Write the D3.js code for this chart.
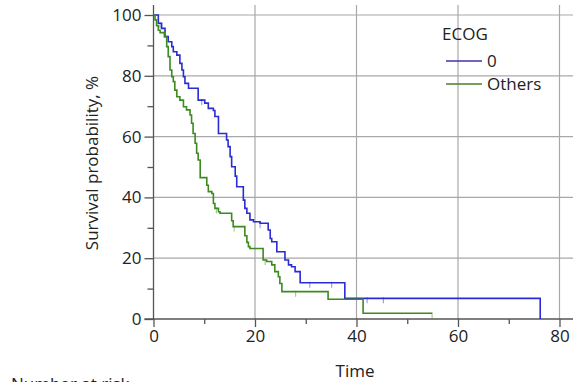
<!DOCTYPE html>
<html>
<head>
<meta charset="utf-8">
<script src="https://cdn.jsdelivr.net/npm/d3@7.9.0/dist/d3.min.js"></script>
<style>
  body { margin: 0; background: #fff; }
  svg { display: block; font-family: "Open Sans", "Noto Sans", sans-serif; }
</style>
</head>
<body>
<svg id="chart" width="573" height="382"></svg>
<script>
// Kaplan-Meier step points: [time, survival %]
const ecog0 = [[0,100],[0.95,97.3],[1.6,95.6],[2.27,92.9],[2.9,91.2],[3.6,89.6],[3.9,87.9],[4.6,86.8],[5.2,84.1],[5.6,81.9],[5.9,79.7],[6.2,77.5],[6.9,75.9],[8.8,72.0],[10.1,71.0],[10.8,69.3],[11.8,68.6],[12.1,66.6],[12.8,61.0],[14.4,58.9],[14.7,56.7],[15.1,53.4],[15.4,50.1],[16.1,47.0],[16.4,43.5],[17.7,39.1],[18.0,36.4],[18.4,34.8],[19.0,32.6],[19.7,32.0],[21.0,31.5],[22.6,29.3],[23.0,26.5],[23.3,25.4],[24.3,22.1],[25.9,19.4],[26.6,17.8],[27.2,17.2],[27.9,15.6],[28.9,11.9],[37.7,6.8],[76.2,0]];
const others = [[0,100],[0.3,98.4],[0.6,96.5],[0.95,95.0],[1.3,94.2],[2.3,92.9],[2.6,89.6],[2.9,86.3],[3.25,81.9],[3.6,79.7],[3.9,78.1],[4.2,75.3],[4.6,73.1],[5.2,72.0],[5.9,69.8],[6.5,68.8],[7.2,67.1],[7.5,64.4],[7.8,61.0],[8.2,57.8],[8.5,54.5],[8.8,52.3],[9.2,46.5],[10.5,44.0],[10.8,41.9],[11.5,41.3],[11.8,38.0],[12.1,36.4],[12.8,35.3],[13.1,34.8],[15.4,32.3],[15.7,30.4],[18.0,27.4],[18.4,25.2],[18.7,23.8],[19.0,23.2],[21.6,19.4],[22.3,18.9],[23.3,17.8],[23.9,15.6],[24.6,13.9],[24.9,11.7],[25.3,9.0],[34.4,6.5],[41.3,1.9],[54.9,1.9]];
const ecog0Censor = [1.3, 9.5, 21.0, 30.8, 35.1, 42.1, 45.3];
const othersCensor = [2.0, 12.4, 15.9, 22.0, 28.0, 54.9];

const groups = ["0", "Others"];
const xTicks = [0, 20, 40, 60, 80];
const xMinor = [10, 30, 50, 70];
const yTicks = [0, 20, 40, 60, 80, 100];
const yMinor = [10, 30, 50, 70, 90];

const colors = ["#2b2bd4", "#3d8a1f"];
const legendColors = ["#3f33b0", "#4a7d2a"];
const fontSize = 17;

const svg = d3.select("#chart");
const x = d3.scaleLinear().domain([0, 80]).range([153.5, 559.5]);
const y = d3.scaleLinear().domain([0, 100]).range([319, 15]);
const plotTop = 5, plotRight = 573;

// grid
svg.append("g").selectAll("line").data(xTicks.slice(1)).join("line")
  .attr("x1", d => x(d)).attr("x2", d => x(d))
  .attr("y1", plotTop).attr("y2", y(0))
  .attr("stroke", "#a8a8a8").attr("stroke-width", 1.2);
svg.append("g").selectAll("line").data(yTicks.slice(1)).join("line")
  .attr("x1", x(0)).attr("x2", plotRight)
  .attr("y1", d => y(d)).attr("y2", d => y(d))
  .attr("stroke", "#a8a8a8").attr("stroke-width", 1.2);

// axes
const yAxis = svg.append("g").attr("transform", `translate(${x(0)},0)`)
  .call(d3.axisLeft(y).tickValues(yTicks).tickSize(9).tickPadding(3));
const yAxisMinor = svg.append("g").attr("transform", `translate(${x(0)},0)`)
  .call(d3.axisLeft(y).tickValues(yMinor).tickSize(6).tickFormat(""));
const xAxis = svg.append("g").attr("transform", `translate(0,${y(0)})`)
  .call(d3.axisBottom(x).tickValues(xTicks).tickSize(8).tickPadding(3));
const xAxisMinor = svg.append("g").attr("transform", `translate(0,${y(0)})`)
  .call(d3.axisBottom(x).tickValues(xMinor).tickSize(5).tickFormat(""));
[yAxis, yAxisMinor, xAxis, xAxisMinor].forEach(g => {
  g.select(".domain").remove();
  g.selectAll("line").attr("stroke", "#555").attr("stroke-width", 1.3);
  g.selectAll("text").attr("font-size", fontSize).attr("fill", "#222")
    .attr("font-family", "'Open Sans', sans-serif");
});
svg.append("line").attr("x1", x(0)).attr("x2", x(0)).attr("y1", plotTop).attr("y2", y(0) + 1)
  .attr("stroke", "#555").attr("stroke-width", 1.3);
svg.append("line").attr("x1", x(0) - 9).attr("x2", plotRight).attr("y1", y(0)).attr("y2", y(0))
  .attr("stroke", "#555").attr("stroke-width", 1.3);

// curves
const line = d3.line().x(d => x(d[0])).y(d => y(d[1])).curve(d3.curveStepAfter);
[ecog0, others].forEach((data, i) => {
  svg.append("path").datum(data)
    .attr("d", line).attr("fill", "none")
    .attr("stroke", colors[i]).attr("stroke-width", 1.6);
});

// censor marks
function survAt(data, t) {
  let s = data[0][1];
  for (const d of data) { if (d[0] <= t) s = d[1]; }
  return s;
}
[[ecog0, ecog0Censor], [others, othersCensor]].forEach(([data, cens], i) => {
  svg.append("g").selectAll("line").data(cens).join("line")
    .attr("x1", d => x(d)).attr("x2", d => x(d))
    .attr("y1", d => y(survAt(data, d)) - 1).attr("y2", d => y(survAt(data, d)) + 5)
    .attr("stroke", colors[i]).attr("stroke-opacity", 0.45).attr("stroke-width", 1.2);
});

// axis titles
svg.append("text").attr("x", 355).attr("y", 377).attr("text-anchor", "middle")
  .attr("font-size", fontSize).attr("fill", "#222").text("Time");
svg.append("text").attr("transform", `translate(98,163) rotate(-90)`)
  .attr("text-anchor", "middle").attr("font-size", fontSize).attr("fill", "#222")
  .text("Survival probability, %");
svg.append("text").attr("x", 11).attr("y", 390)
  .attr("font-size", fontSize).attr("fill", "#222").text("Number at risk");

// legend
const legend = svg.append("g");
legend.append("text").attr("x", 442).attr("y", 40).attr("font-size", fontSize).attr("fill", "#222").text("ECOG");
groups.forEach((g, i) => {
  const ly = 61 + i * 23;
  legend.append("line").attr("x1", 446).attr("x2", 482).attr("y1", ly).attr("y2", ly)
    .attr("stroke", legendColors[i]).attr("stroke-width", 1.6);
  legend.append("text").attr("x", 487).attr("y", ly + 6).attr("font-size", fontSize)
    .attr("fill", "#222").text(g);
});
</script>
</body>
</html>
